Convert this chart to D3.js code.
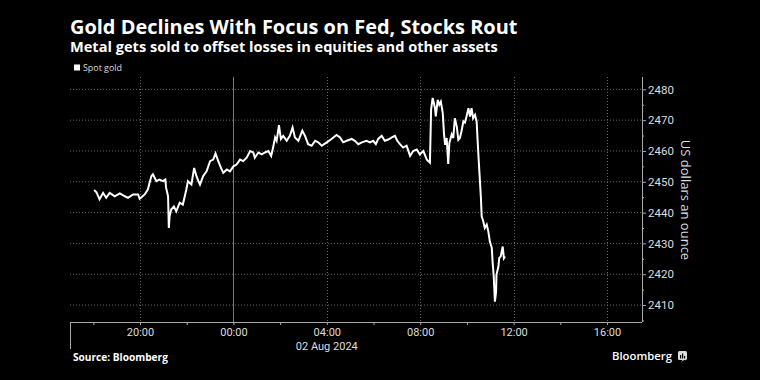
<!DOCTYPE html>
<html>
<head>
<meta charset="utf-8">
<script src="https://cdn.jsdelivr.net/npm/d3@7"></script>
<style>
  html, body { margin: 0; padding: 0; background: #000; }
  svg { display: block; }
</style>
</head>
<body>
<svg id="chart" width="760" height="380"></svg>
<script>
// ---- Data ----
const titleText = "Gold Declines With Focus on Fed, Stocks Rout";
const subtitleText = "Metal gets sold to offset losses in equities and other assets";
const seriesName = "Spot gold";
const yAxisTitle = "US dollars an ounce";
const sourceText = "Source: Bloomberg";
const dateLabel = "02 Aug 2024";

const times = [
  "2024-08-01T18:02","2024-08-01T18:08","2024-08-01T18:16","2024-08-01T18:25","2024-08-01T18:33",
  "2024-08-01T18:42","2024-08-01T18:55","2024-08-01T19:08","2024-08-01T19:21","2024-08-01T19:29",
  "2024-08-01T19:42","2024-08-01T19:55","2024-08-01T19:59","2024-08-01T20:12","2024-08-01T20:20",
  "2024-08-01T20:29","2024-08-01T20:33","2024-08-01T20:42","2024-08-01T20:50","2024-08-01T20:59",
  "2024-08-01T21:05","2024-08-01T21:07","2024-08-01T21:12","2024-08-01T21:14","2024-08-01T21:16",
  "2024-08-01T21:20","2024-08-01T21:27","2024-08-01T21:33","2024-08-01T21:42","2024-08-01T21:50",
  "2024-08-01T21:59","2024-08-01T22:03","2024-08-01T22:12","2024-08-01T22:19","2024-08-01T22:25",
  "2024-08-01T22:30","2024-08-01T22:34","2024-08-01T22:42","2024-08-01T22:51","2024-08-01T23:00",
  "2024-08-01T23:08","2024-08-01T23:14","2024-08-01T23:21","2024-08-01T23:28","2024-08-01T23:34",
  "2024-08-01T23:43","2024-08-01T23:51","2024-08-02T00:00","2024-08-02T00:08","2024-08-02T00:17",
  "2024-08-02T00:25","2024-08-02T00:34","2024-08-02T00:43","2024-08-02T00:51","2024-08-02T00:55",
  "2024-08-02T01:04","2024-08-02T01:13","2024-08-02T01:21","2024-08-02T01:30","2024-08-02T01:37",
  "2024-08-02T01:42","2024-08-02T01:47","2024-08-02T01:51","2024-08-02T01:57","2024-08-02T02:02",
  "2024-08-02T02:08","2024-08-02T02:17","2024-08-02T02:25","2024-08-02T02:32","2024-08-02T02:38",
  "2024-08-02T02:47","2024-08-02T02:57","2024-08-02T03:04","2024-08-02T03:12","2024-08-02T03:21",
  "2024-08-02T03:30","2024-08-02T03:38","2024-08-02T03:47","2024-08-02T03:53","2024-08-02T04:00",
  "2024-08-02T04:12","2024-08-02T04:25","2024-08-02T04:34","2024-08-02T04:42","2024-08-02T04:51",
  "2024-08-02T05:04","2024-08-02T05:12","2024-08-02T05:21","2024-08-02T05:30","2024-08-02T05:42",
  "2024-08-02T05:51","2024-08-02T05:59","2024-08-02T06:06","2024-08-02T06:12","2024-08-02T06:21",
  "2024-08-02T06:29","2024-08-02T06:38","2024-08-02T06:47","2024-08-02T06:55","2024-08-02T07:01",
  "2024-08-02T07:08","2024-08-02T07:16","2024-08-02T07:25","2024-08-02T07:34","2024-08-02T07:42",
  "2024-08-02T07:51","2024-08-02T07:59","2024-08-02T08:08","2024-08-02T08:17","2024-08-02T08:25",
  "2024-08-02T08:28","2024-08-02T08:32","2024-08-02T08:38","2024-08-02T08:40","2024-08-02T08:45",
  "2024-08-02T08:49","2024-08-02T08:53","2024-08-02T08:58","2024-08-02T09:01","2024-08-02T09:04",
  "2024-08-02T09:08","2024-08-02T09:12","2024-08-02T09:15","2024-08-02T09:21","2024-08-02T09:25",
  "2024-08-02T09:29","2024-08-02T09:34","2024-08-02T09:38","2024-08-02T09:42","2024-08-02T09:46",
  "2024-08-02T09:51","2024-08-02T09:55","2024-08-02T09:59","2024-08-02T10:04","2024-08-02T10:08",
  "2024-08-02T10:12","2024-08-02T10:16","2024-08-02T10:21","2024-08-02T10:25","2024-08-02T10:29",
  "2024-08-02T10:32","2024-08-02T10:34","2024-08-02T10:36","2024-08-02T10:38","2024-08-02T10:42",
  "2024-08-02T10:46","2024-08-02T10:51","2024-08-02T10:55","2024-08-02T10:59","2024-08-02T11:04",
  "2024-08-02T11:06","2024-08-02T11:09","2024-08-02T11:12","2024-08-02T11:15","2024-08-02T11:16",
  "2024-08-02T11:21","2024-08-02T11:23","2024-08-02T11:27","2024-08-02T11:32","2024-08-02T11:35",
  "2024-08-02T11:38"
];

const prices = [
  2447.3,2446.6,2444.3,2446.4,2444.8,
  2446.4,2445.3,2446.2,2445.3,2444.8,
  2445.9,2445.9,2444.5,2445.9,2447.5,
  2451.8,2452.4,2450.2,2450.7,2450.2,
  2450.7,2448.0,2445.3,2435.0,2438.8,
  2441.0,2442.0,2440.4,2443.2,2442.6,
  2447.5,2450.2,2449.1,2454.5,2451.8,
  2450.2,2449.1,2451.8,2453.4,2456.7,
  2457.2,2459.2,2456.7,2454.5,2452.9,
  2454.0,2453.4,2455.0,2455.6,2457.2,
  2456.7,2457.8,2460.0,2459.5,2457.8,
  2459.5,2458.9,2459.5,2460.0,2458.4,
  2461.1,2464.4,2463.3,2468.4,2463.9,
  2464.9,2463.3,2464.9,2467.6,2464.4,
  2463.3,2466.6,2464.9,2462.2,2461.7,
  2463.3,2462.8,2461.7,2462.2,2462.8,
  2463.9,2465.2,2464.4,2462.8,2463.3,
  2463.9,2463.3,2462.2,2462.8,2463.3,
  2462.8,2463.3,2462.2,2463.9,2464.9,
  2463.3,2463.7,2464.4,2464.9,2463.3,
  2462.2,2461.1,2461.7,2458.4,2460.0,
  2460.5,2458.9,2460.0,2457.2,2456.2,
  2473.4,2477.2,2473.9,2471.2,2476.6,
  2475.0,2476.0,2472.3,2465.8,2462.0,
  2464.2,2455.8,2462.6,2465.4,2464.2,
  2470.6,2467.9,2463.6,2464.2,2466.3,
  2469.6,2469.2,2471.2,2473.9,2471.2,
  2473.9,2470.6,2471.7,2469.6,2460.0,
  2453.4,2449.1,2444.8,2438.8,2437.2,
  2435.0,2436.1,2433.9,2430.6,2428.5,
  2424.1,2419.3,2411.1,2414.3,2419.8,
  2422.5,2425.2,2425.8,2429.0,2425.2,
  2425.8
];

const yTickValues = [2410, 2420, 2430, 2440, 2450, 2460, 2470, 2480];
const yMinorTickValues = [2405, 2415, 2425, 2435, 2445, 2455, 2465, 2475];
const xTickTimes = ["2024-08-01T20:00","2024-08-02T00:00","2024-08-02T04:00","2024-08-02T08:00","2024-08-02T12:00","2024-08-02T16:00"];
const xTickLabels = ["20:00","00:00","04:00","08:00","12:00","16:00"];
const xMinorTickTimes = ["2024-08-01T18:00","2024-08-01T22:00","2024-08-02T02:00","2024-08-02T06:00","2024-08-02T10:00","2024-08-02T14:00"];
const xDomainTimes = ["2024-08-01T17:00","2024-08-02T17:30"];
const dayBoundary = "2024-08-02T00:00";

// ---- Setup ----
const parse = d3.timeParse("%Y-%m-%dT%H:%M");
const data = times.map((t, i) => ({ t: parse(t), v: prices[i] }));

const svg = d3.select("#chart");
const W = 760, H = 380;
svg.append("rect").attr("width", W).attr("height", H).attr("fill", "#000");

const plot = { left: 70, right: 642, top: 77, bottom: 322 };
const FONT = "'Open Sans', 'Noto Sans', 'DejaVu Sans', sans-serif";
const AXFONT = "Roboto, 'Liberation Sans', sans-serif";

const x = d3.scaleTime()
  .domain(xDomainTimes.map(parse))
  .range([plot.left, plot.right]);
const y = d3.scaleLinear()
  .domain([2404.5, 2484])
  .range([plot.bottom, plot.top]);

function fitText(sel, target) {
  const node = sel.node();
  const len = node.getComputedTextLength();
  if (len > 0) {
    const fs = parseFloat(sel.attr("font-size"));
    sel.attr("font-size", (fs * target / len).toFixed(2));
  }
}

// ---- Titles ----
const title = svg.append("text")
  .attr("x", 70).attr("y", 34)
  .attr("fill", "#fff").attr("font-family", FONT)
  .attr("font-weight", 700).attr("font-size", 18)
  .text(titleText);
fitText(title, 448);

const subtitle = svg.append("text")
  .attr("x", 70).attr("y", 51.5)
  .attr("fill", "#fff").attr("font-family", FONT)
  .attr("font-weight", 700).attr("font-size", 14)
  .text(subtitleText);
fitText(subtitle, 428);

// Legend
svg.append("rect").attr("x", 74).attr("y", 64.5).attr("width", 6).attr("height", 6).attr("fill", "#fff");
const leg = svg.append("text")
  .attr("x", 83).attr("y", 71)
  .attr("fill", "#ddd").attr("font-family", FONT)
  .attr("font-size", 10)
  .text(seriesName);
fitText(leg, 39);

// ---- Grid ----
const grid = svg.append("g");
grid.selectAll("line.h").data(yTickValues).join("line")
  .attr("x1", plot.left).attr("x2", plot.right)
  .attr("y1", d => y(d)).attr("y2", d => y(d))
  .attr("stroke", "#6a6a6a").attr("stroke-width", 1)
  .attr("stroke-dasharray", "1,2");
grid.selectAll("line.v").data(xTickTimes.map(parse)).join("line")
  .attr("x1", d => Math.round(x(d)) + 0.5).attr("x2", d => Math.round(x(d)) + 0.5)
  .attr("y1", plot.top).attr("y2", plot.bottom)
  .attr("stroke", d => +d === +parse(dayBoundary) ? "#777" : "#6a6a6a")
  .attr("stroke-width", 1)
  .attr("stroke-dasharray", d => +d === +parse(dayBoundary) ? null : "1,2");

// ---- Axes ----
const yAxis = d3.axisRight(y).tickValues(yTickValues).tickSize(4).tickPadding(2)
  .tickFormat(d3.format("d"));
const yG = svg.append("g").attr("transform", `translate(${plot.right},0)`).call(yAxis);
yG.select(".domain").attr("stroke", "#aaa").attr("d", `M0.5,${plot.top}V${plot.bottom}`);
yG.selectAll(".tick line").attr("stroke", "#aaa");
yG.selectAll(".tick text").attr("fill", "#ddd").attr("font-family", AXFONT).attr("font-size", 11.5);
const yMinor = d3.axisRight(y).tickValues(yMinorTickValues).tickSize(2).tickFormat("");
const yMG = svg.append("g").attr("transform", `translate(${plot.right},0)`).call(yMinor);
yMG.select(".domain").remove();
yMG.selectAll(".tick line").attr("stroke", "#aaa");

svg.append("text")
  .attr("transform", `translate(681,200) rotate(90)`)
  .attr("text-anchor", "middle")
  .attr("fill", "#ddd").attr("font-family", FONT).attr("font-size", 13)
  .text(yAxisTitle);

const xAxis = d3.axisBottom(x).tickValues(xTickTimes.map(parse)).tickSize(3).tickPadding(3)
  .tickFormat((d, i) => xTickLabels[i]);
const xG = svg.append("g").attr("transform", `translate(0,${plot.bottom})`).call(xAxis);
xG.select(".domain").attr("stroke", "#aaa").attr("d", `M${plot.left},0.5H${plot.right}`);
xG.selectAll(".tick line").attr("stroke", "#aaa");
xG.selectAll(".tick text").attr("fill", "#ddd").attr("font-family", AXFONT).attr("font-size", 11);
const xMinor = d3.axisBottom(x).tickValues(xMinorTickTimes.map(parse)).tickSize(3).tickFormat("");
const xMG = svg.append("g").attr("transform", `translate(0,${plot.bottom})`).call(xMinor);
xMG.select(".domain").remove();
xMG.selectAll(".tick line").attr("stroke", "#aaa");

// left boundary tick
svg.append("line")
  .attr("x1", plot.left + 0.5).attr("x2", plot.left + 0.5)
  .attr("y1", plot.bottom).attr("y2", 349)
  .attr("stroke", "#aaa").attr("stroke-width", 1);

svg.append("text")
  .attr("x", x(parse("2024-08-02T04:00"))).attr("y", 349.5)
  .attr("text-anchor", "middle")
  .attr("fill", "#ddd").attr("font-family", AXFONT).attr("font-size", 11)
  .text(dateLabel);

// ---- Line ----
const line = d3.line().x(d => x(d.t)).y(d => y(d.v)).curve(d3.curveLinear);
svg.append("path").datum(data)
  .attr("d", line)
  .attr("fill", "none")
  .attr("stroke", "#fff")
  .attr("stroke-width", 2)
  .attr("stroke-linejoin", "miter");

// ---- Footer ----
const src = svg.append("text")
  .attr("x", 73).attr("y", 361)
  .attr("fill", "#fff").attr("font-family", FONT)
  .attr("font-weight", 700).attr("font-size", 10)
  .text(sourceText);
fitText(src, 95);

const logo = svg.append("text")
  .attr("x", 612).attr("y", 360)
  .attr("fill", "#fff").attr("font-family", FONT)
  .attr("font-weight", 600).attr("font-size", 12)
  .text("Bloomberg");
fitText(logo, 60);

const icon = svg.append("g").attr("transform", "translate(678,351)");
icon.append("rect").attr("width", 9).attr("height", 9).attr("rx", 1.5).attr("fill", "#ddd");
icon.append("path").attr("d", "M4.5,9 L3,11 L6,9 Z").attr("fill", "#ddd");
[[2, 4], [4, 2.5], [6, 5]].forEach(([bx, by]) => {
  icon.append("rect").attr("x", bx).attr("y", by).attr("width", 1.2).attr("height", 7.5 - by).attr("fill", "#000");
});
</script>
</body>
</html>
